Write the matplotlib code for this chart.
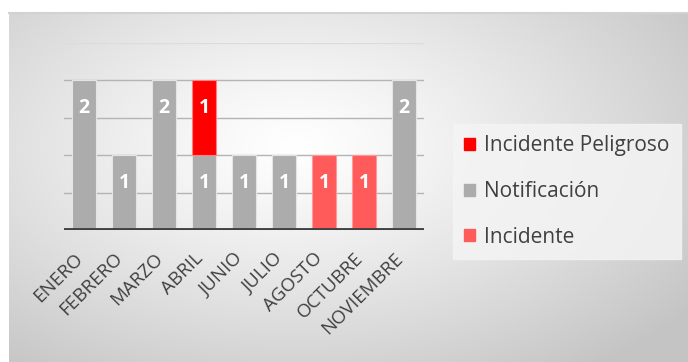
import numpy as np
import matplotlib
matplotlib.use("Agg")
import matplotlib.pyplot as plt
from matplotlib.patches import Rectangle

plt.rcParams['font.family'] = ['Open Sans', 'DejaVu Sans']

meses = ["ENERO", "FEBRERO", "MARZO", "ABRIL", "JUNIO", "JULIO",
         "AGOSTO", "OCTUBRE", "NOVIEMBRE"]
notificacion = [2, 1, 2, 1, 1, 1, 0, 0, 2]
incidente_peligroso = [0, 0, 0, 1, 0, 0, 0, 0, 0]
incidente = [0, 0, 0, 0, 0, 0, 1, 1, 0]

c_notif = "#acacac"
c_peligro = "#ff0000"
c_incid = "#ff5b5b"

W, H = 688, 362
fig = plt.figure(figsize=(W / 100, H / 100), dpi=100)
fig.patch.set_facecolor("white")

# chart area with a soft radial gradient
bg = fig.add_axes([9 / W, 0, (W - 9) / W, (H - 13) / H])
bg.set_axis_off()
ny, nx = 200, 400
yy, xx = np.mgrid[0:ny, 0:nx]
cx, cy = 0.42 * nx, 0.38 * ny
d = np.sqrt(((xx - cx) / (0.72 * nx)) ** 2 + ((yy - cy) / (0.8 * ny)) ** 2)
d = np.clip(d, 0, 1)
val = 1.0 - 0.23 * d ** 1.2
img = np.dstack([val, val, val])
bg.imshow(img, aspect="auto", extent=[0, 1, 0, 1], origin="upper")
bg.set_xlim(0, 1)
bg.set_ylim(0, 1)
bg.plot([0, 1], [1, 1], color="#d2d2d2", lw=1.5, transform=bg.transAxes, clip_on=False)

ax = fig.add_axes([64 / W, (H - 230) / H, 360 / W, 187 / H])
ax.set_facecolor("none")
x = np.arange(len(meses))
bw = 0.6

for g in [0.5, 1.0, 1.5, 2.0]:
    ax.axhline(g, color="#b4b4b4", lw=1.0, zorder=1)
ax.axhline(2.5, color="#dcdcdc", lw=1.0, zorder=1)

n = np.array(notificacion)
p = np.array(incidente_peligroso)
i = np.array(incidente)
series = [(n, np.zeros_like(n), c_notif, "#e4e4e4"),
          (p, n, c_peligro, "#ff8080"),
          (i, n + p, c_incid, "#ff9a9a")]

for vals, bottoms, col, ec in series:
    for xi, v, b0 in zip(x, vals, bottoms):
        if v <= 0:
            continue
        ax.bar(xi, v, bw, bottom=b0, color=col, edgecolor=ec, lw=0.8, zorder=2)
        ax.annotate(str(v), (xi, b0 + v), xytext=(0, -20), textcoords="offset points",
                    ha="center", va="center", color="white", fontsize=14,
                    fontweight="bold", zorder=4)

ax.set_xlim(-0.5, len(meses) - 0.5)
ax.set_ylim(0, 2.5)
ax.axhline(0, color="#404040", lw=3.5, zorder=3)
for s in ax.spines.values():
    s.set_visible(False)
ax.set_yticks([])
ax.set_xticks([])

# rotated month labels under each bar
for xi, name in zip(x, meses):
    ax.annotate(name, (xi, 0), xycoords=("data", "axes fraction"),
                xytext=(-7.5, -14), textcoords="offset points",
                rotation=45, rotation_mode="anchor", ha="right", va="top",
                fontsize=13.5, color="#404040", annotation_clip=False)

handles = [Rectangle((0, 0), 1, 1, color=c_peligro),
           Rectangle((0, 0), 1, 1, color=c_notif),
           Rectangle((0, 0), 1, 1, color=c_incid)]
labels = ["Incidente Peligroso", "Notificación", "Incidente"]
leg = fig.legend(handles, labels, loc="upper left",
                 bbox_to_anchor=(453 / W, 1 - 124 / H),
                 frameon=True, fancybox=False, fontsize=15,
                 handlelength=0.5, handleheight=0.5, handletextpad=0.45,
                 labelspacing=1.18, borderpad=0.55, borderaxespad=0,
                 labelcolor="#404040")
leg.get_frame().set_facecolor("#f4f4f4")
leg.get_frame().set_edgecolor("#f4f4f4")
leg.get_frame().set_alpha(0.85)

fig.savefig("out.png", dpi=100)
